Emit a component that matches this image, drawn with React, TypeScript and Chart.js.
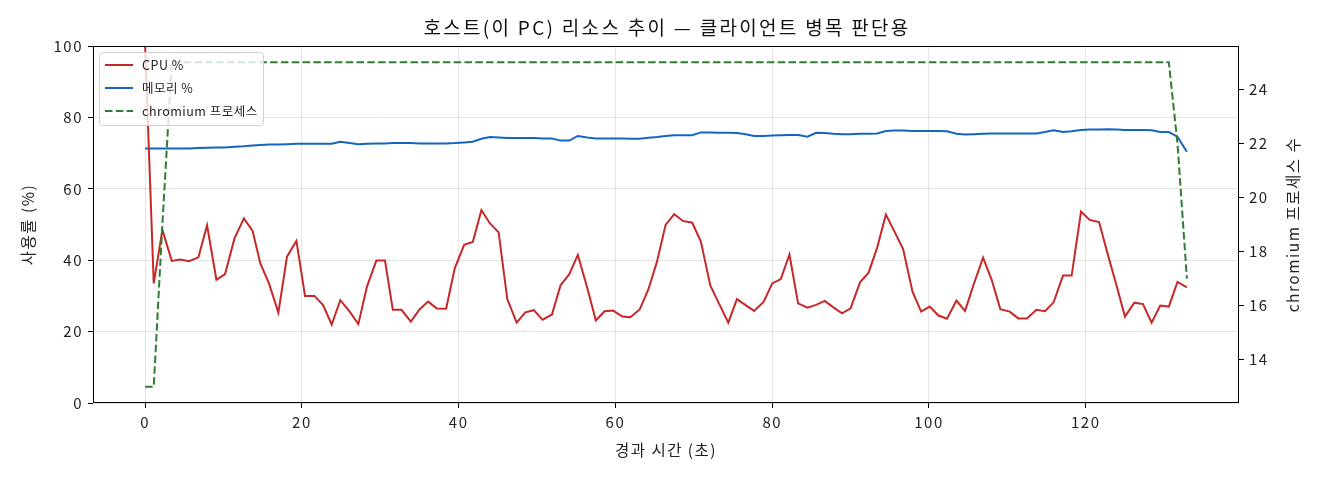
import React, { useEffect, useRef } from "react";
import { Chart, registerables } from "chart.js";

Chart.register(...registerables);

// elapsed time (s) of each sample
const times = [
  0, 1.1, 2.2, 3.4, 4.5, 5.6, 6.8, 7.9, 9.1, 10.2,
  11.4, 12.6, 13.7, 14.7, 15.8, 17.0, 18.1, 19.3, 20.4, 21.6,
  22.7, 23.8, 24.9, 26.1, 27.2, 28.3, 29.5, 30.6, 31.6, 32.7,
  33.9, 35.0, 36.1, 37.2, 38.4, 39.5, 40.7, 41.8, 42.9, 44.0,
  45.1, 46.2, 47.4, 48.5, 49.6, 50.7, 51.9, 53.0, 54.1, 55.2,
  56.4, 57.5, 58.6, 59.7, 60.9, 61.9, 63.1, 64.2, 65.3, 66.4,
  67.5, 68.6, 69.8, 70.9, 72.1, 73.2, 74.4, 75.5, 76.6, 77.7,
  78.9, 80.0, 81.1, 82.2, 83.3, 84.5, 85.6, 86.7, 87.8, 88.9,
  90.0, 91.2, 92.3, 93.4, 94.5, 95.6, 96.7, 97.9, 99.0, 100.1,
  101.2, 102.3, 103.5, 104.6, 105.7, 106.9, 108.0, 109.1, 110.3, 111.4,
  112.5, 113.7, 114.8, 115.9, 117.1, 118.2, 119.4, 120.5, 121.7, 122.8,
  123.9, 125.0, 126.2, 127.3, 128.4, 129.5, 130.6, 131.7, 132.9,
];

const cpuPct = [
  100, 33.5, 48.5, 39.8, 40.2, 39.7, 40.8, 49.8, 34.5, 36.1,
  46.1, 51.7, 48.3, 39.1, 33.5, 25.3, 41.0, 45.4, 30.0, 30.0,
  27.4, 22.0, 28.8, 25.6, 22.1, 32.6, 39.9, 39.9, 26.1, 26.1,
  22.8, 26.2, 28.4, 26.5, 26.4, 37.7, 44.3, 45.1, 54.0, 50.3,
  47.8, 29.1, 22.5, 25.4, 26.0, 23.3, 24.8, 33.0, 36.0, 41.5,
  32.3, 23.1, 25.7, 25.9, 24.2, 24.0, 26.2, 31.8, 39.6, 49.9,
  52.9, 51.0, 50.5, 45.2, 32.9, 27.9, 22.5, 29.1, 27.4, 25.8,
  28.3, 33.5, 34.7, 41.6, 27.9, 26.7, 27.5, 28.6, 26.8, 25.1,
  26.5, 33.8, 36.5, 43.6, 52.8, 48.0, 43.1, 31.2, 25.6, 27.0,
  24.5, 23.6, 28.7, 25.8, 33.2, 40.7, 34.5, 26.3, 25.6, 23.7,
  23.7, 26.1, 25.7, 28.2, 35.7, 35.7, 53.6, 51.3, 50.7, 41.7,
  33.1, 24.2, 28.1, 27.7, 22.5, 27.3, 27.0, 33.9, 32.4,
];

const memPct = [
  71.3, 71.3, 71.3, 71.3, 71.3, 71.3, 71.4, 71.5, 71.6, 71.6,
  71.8, 71.9, 72.1, 72.3, 72.4, 72.4, 72.5, 72.6, 72.6, 72.6,
  72.6, 72.6, 73.2, 72.8, 72.5, 72.6, 72.7, 72.7, 72.8, 72.8,
  72.8, 72.7, 72.7, 72.7, 72.7, 72.8, 73.0, 73.2, 74.0, 74.5,
  74.4, 74.2, 74.2, 74.2, 74.2, 74.1, 74.1, 73.5, 73.5, 74.8,
  74.4, 74.1, 74.1, 74.1, 74.1, 74.0, 74.0, 74.3, 74.5, 74.8,
  75.0, 75.0, 75.0, 75.8, 75.8, 75.7, 75.7, 75.6, 75.3, 74.8,
  74.8, 74.9, 75.0, 75.1, 75.1, 74.6, 75.7, 75.6, 75.4, 75.3,
  75.3, 75.4, 75.4, 75.5, 76.2, 76.3, 76.3, 76.2, 76.2, 76.2,
  76.2, 76.1, 75.4, 75.2, 75.3, 75.4, 75.5, 75.5, 75.5, 75.5,
  75.5, 75.5, 75.9, 76.4, 75.9, 76.1, 76.5, 76.6, 76.6, 76.7,
  76.6, 76.5, 76.5, 76.5, 76.4, 75.9, 75.9, 74.6, 70.4,
];

const chromiumCount = [
  13, 13, 19, 25, 25, 25, 25, 25, 25, 25,
  25, 25, 25, 25, 25, 25, 25, 25, 25, 25,
  25, 25, 25, 25, 25, 25, 25, 25, 25, 25,
  25, 25, 25, 25, 25, 25, 25, 25, 25, 25,
  25, 25, 25, 25, 25, 25, 25, 25, 25, 25,
  25, 25, 25, 25, 25, 25, 25, 25, 25, 25,
  25, 25, 25, 25, 25, 25, 25, 25, 25, 25,
  25, 25, 25, 25, 25, 25, 25, 25, 25, 25,
  25, 25, 25, 25, 25, 25, 25, 25, 25, 25,
  25, 25, 25, 25, 25, 25, 25, 25, 25, 25,
  25, 25, 25, 25, 25, 25, 25, 25, 25, 25,
  25, 25, 25, 25, 25, 25, 25, 22, 17,
];

const xTicks = [0, 20, 40, 60, 80, 100, 120];
const pctTicks = [0, 20, 40, 60, 80, 100];
const countTicks = [14, 16, 18, 20, 22, 24];

const TITLE = "호스트(이 PC) 리소스 추이 — 클라이언트 병목 판단용";
const FONT = '"Noto Sans CJK KR", "Noto Sans", sans-serif';
const RED = "#c62828";
const BLUE = "#1565c0";
const GREEN = "#2e7d32";
const DASH = [7.5, 3.3];

const legendItems = [
  { label: "CPU %", color: RED, dash: [] as number[] },
  { label: "메모리 %", color: BLUE, dash: [] as number[] },
  { label: "chromium 프로세스", color: GREEN, dash: DASH },
];

// the reference font is wider than Noto, so text gets a little tracking
const spacingPlugin = {
  id: "spacing",
  beforeDraw(chart: any) {
    chart.ctx.letterSpacing = "1.5px";
  },
};

// title, legend inside the plot, outer frame and the right-hand axis label
const overlayPlugin = {
  id: "overlay",
  afterDatasetsDraw(chart: any) {
    const { ctx, chartArea: a } = chart;
    ctx.save();

    const lx = a.left + 6;
    const ly = a.top + 6;
    const lw = 164;
    const lh = 73;
    ctx.beginPath();
    ctx.roundRect(lx + 0.5, ly + 0.5, lw, lh, 3);
    ctx.fillStyle = "rgba(255,255,255,0.8)";
    ctx.fill();
    ctx.strokeStyle = "#d0d0d0";
    ctx.lineWidth = 1;
    ctx.stroke();

    ctx.letterSpacing = "0.5px";
    ctx.font = `12.5px ${FONT}`;
    ctx.textBaseline = "middle";
    legendItems.forEach((it, i) => {
      const y = ly + 13 + i * 23;
      ctx.beginPath();
      ctx.setLineDash(it.dash);
      ctx.strokeStyle = it.color;
      ctx.lineWidth = 2;
      ctx.moveTo(lx + 6, y);
      ctx.lineTo(lx + 34, y);
      ctx.stroke();
      ctx.setLineDash([]);
      ctx.fillStyle = "#222";
      ctx.fillText(it.label, lx + 43, y);
    });

    ctx.strokeStyle = "#000";
    ctx.lineWidth = 1;
    ctx.strokeRect(a.left + 0.5, a.top + 0.5, a.width - 1, a.height - 1);

    ctx.letterSpacing = "2.3px";
    ctx.font = `19px ${FONT}`;
    ctx.textAlign = "center";
    ctx.fillStyle = "#111";
    ctx.fillText(TITLE, (a.left + a.right) / 2 + 1, 28);

    ctx.letterSpacing = "1.5px";
    ctx.translate(1293, (a.top + a.bottom) / 2);
    ctx.rotate(-Math.PI / 2);
    ctx.font = `15.5px ${FONT}`;
    ctx.fillStyle = "#222";
    ctx.fillText("chromium 프로세스 수", 0, 0);
    ctx.restore();
  },
};

const App = () => {
  const canvasRef = useRef<HTMLCanvasElement | null>(null);

  useEffect(() => {
    document.body.style.margin = "0";
    if (!canvasRef.current) return;
    const ctx = canvasRef.current.getContext("2d");
    if (!ctx) return;

    const chart = new Chart(ctx, {
      type: "line",
      data: {
        datasets: [
          {
            label: "CPU %",
            data: times.map((t, i) => ({ x: t, y: cpuPct[i] })),
            borderColor: RED,
            borderWidth: 2,
            pointRadius: 0,
            yAxisID: "y",
            order: 2,
          },
          {
            label: "메모리 %",
            data: times.map((t, i) => ({ x: t, y: memPct[i] })),
            borderColor: BLUE,
            borderWidth: 2,
            pointRadius: 0,
            yAxisID: "y",
            order: 3,
          },
          {
            label: "chromium 프로세스",
            data: times.map((t, i) => ({ x: t, y: chromiumCount[i] })),
            borderColor: GREEN,
            borderWidth: 2,
            borderDash: DASH,
            pointRadius: 0,
            yAxisID: "y2",
            order: 1,
          },
        ],
      },
      options: {
        animation: false,
        responsive: true,
        maintainAspectRatio: false,
        layout: { padding: { top: 46 } },
        font: { family: FONT },
        plugins: {
          legend: { display: false },
          tooltip: { enabled: false },
          title: { display: false },
        },
        scales: {
          x: {
            type: "linear",
            min: -6.65,
            max: 139.55,
            afterBuildTicks: (s: any) => {
              s.ticks = xTicks.map((v) => ({ value: v }));
            },
            afterFit: (s: any) => {
              s.height = 77;
            },
            border: { display: false },
            grid: { color: "rgba(0,0,0,0.1)", tickColor: "#000", tickLength: 5 },
            ticks: { color: "#222", padding: 5, font: { family: FONT, size: 15 } },
            title: {
              display: true,
              text: "경과 시간 (초)",
              color: "#222",
              font: { family: FONT, size: 15.5 },
              padding: { bottom: 21 },
            },
          },
          y: {
            type: "linear",
            position: "left",
            min: 0,
            max: 100,
            afterBuildTicks: (s: any) => {
              s.ticks = pctTicks.map((v) => ({ value: v }));
            },
            afterFit: (s: any) => {
              s.width = 93;
            },
            border: { display: false },
            grid: { color: "rgba(0,0,0,0.1)", tickColor: "#000", tickLength: 5 },
            ticks: { color: "#222", padding: 5, font: { family: FONT, size: 15 } },
            title: {
              display: true,
              text: "사용률 (%)",
              color: "#222",
              font: { family: FONT, size: 15.5 },
              padding: { top: 19 },
            },
          },
          y2: {
            type: "linear",
            position: "right",
            min: 12.4,
            max: 25.6,
            afterBuildTicks: (s: any) => {
              s.ticks = countTicks.map((v) => ({ value: v }));
            },
            afterFit: (s: any) => {
              s.width = 81;
            },
            border: { display: false },
            grid: { drawOnChartArea: false, tickColor: "#000", tickLength: 5 },
            ticks: { color: "#222", padding: 5, font: { family: FONT, size: 15 } },
          },
        },
      },
      plugins: [spacingPlugin, overlayPlugin],
    });

    return () => {
      chart.destroy();
    };
  }, []);

  return (
    <div style={{ position: "absolute", left: 0, top: 0, width: 1320, height: 480, background: "#fff" }}>
      <canvas ref={canvasRef} />
    </div>
  );
};

export default App;
